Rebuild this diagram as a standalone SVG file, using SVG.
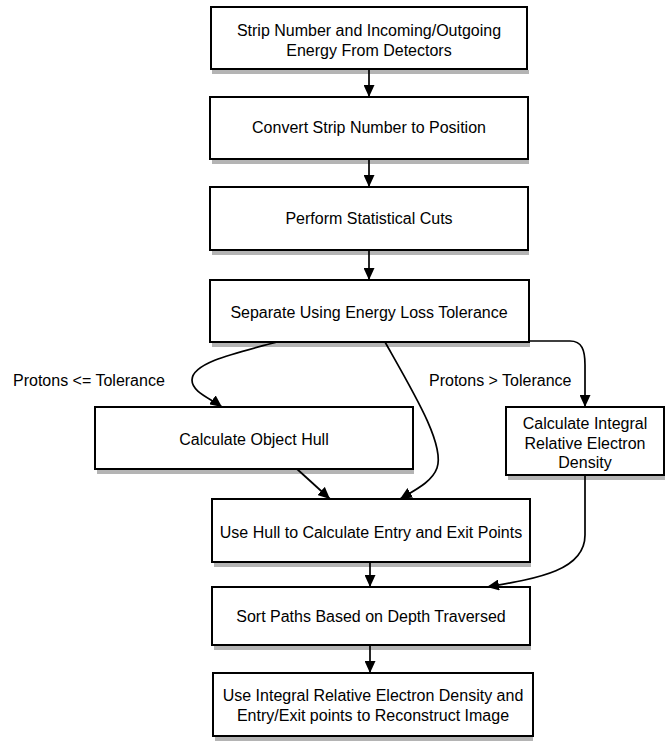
<svg xmlns="http://www.w3.org/2000/svg" width="666" height="744" viewBox="0 0 666 744">
<defs>
<marker id="arr" markerUnits="userSpaceOnUse" markerWidth="13" markerHeight="11" refX="12" refY="5.5" orient="auto">
<path d="M0,0 L12,5.5 L0,11 Z" fill="#000"/>
</marker>
</defs>
<style>
.box{fill:#fff;stroke:#000;stroke-width:2}
.sh{fill:#b4b4b4}
.t{font-family:"Liberation Sans",Arial,sans-serif;font-size:16px;fill:#000;text-anchor:middle;dominant-baseline:central}
.lbl{font-family:"Liberation Sans",Arial,sans-serif;font-size:16px;fill:#000;dominant-baseline:central}
.c{fill:none;stroke:#000;stroke-width:1.7}
</style>
<rect width="666" height="744" fill="#fff"/>
<g id="n1"><rect class="sh" x="212" y="70" width="317" height="4"/><rect class="box" x="211" y="7" width="316" height="62"/><text class="t" x="369" y="30">Strip Number and Incoming/Outgoing</text><text class="t" x="369" y="50">Energy From Detectors</text></g>
<g id="n2"><rect class="sh" x="212" y="160" width="317" height="4"/><rect class="box" x="210" y="97" width="318" height="62"/><text class="t" x="369" y="127">Convert Strip Number to Position</text></g>
<g id="n3"><rect class="sh" x="212" y="251" width="317" height="4"/><rect class="box" x="210" y="187" width="318" height="63"/><text class="t" x="369" y="218">Perform Statistical Cuts</text></g>
<g id="n4"><rect class="sh" x="212" y="343" width="318" height="4"/><rect class="box" x="210" y="280" width="319" height="62"/><text class="t" x="369" y="312">Separate Using Energy Loss Tolerance</text></g>
<g id="n5"><rect class="sh" x="97" y="470" width="317" height="4"/><rect class="box" x="95" y="407" width="318" height="62"/><text class="t" x="254" y="439">Calculate Object Hull</text></g>
<g id="n6"><rect class="sh" x="508" y="476" width="157" height="4"/><rect class="box" x="506" y="407" width="158" height="68"/><text class="t" x="585" y="423">Calculate Integral</text><text class="t" x="585" y="443">Relative Electron</text><text class="t" x="585" y="462">Density</text></g>
<g id="n7"><rect class="sh" x="214" y="563" width="317" height="4"/><rect class="box" x="212" y="499" width="318" height="63"/><text class="t" x="371" y="532">Use Hull to Calculate Entry and Exit Points</text></g>
<g id="n8"><rect class="sh" x="214" y="646" width="317" height="4"/><rect class="box" x="212" y="587" width="318" height="58"/><text class="t" x="371" y="616">Sort Paths Based on Depth Traversed</text></g>
<g id="n9"><rect class="sh" x="215" y="737" width="318" height="4"/><rect class="box" x="213" y="673" width="320" height="63"/><text class="t" x="373" y="695">Use Integral Relative Electron Density and</text><text class="t" x="373" y="715">Entry/Exit points to Reconstruct Image</text></g>
<g id="connectors">
<path class="c" d="M369,69 L369,97" marker-end="url(#arr)"/>
<path class="c" d="M369,159 L369,187" marker-end="url(#arr)"/>
<path class="c" d="M369,250 L369,280" marker-end="url(#arr)"/>
<path class="c" d="M277,342 C240,352 192,362 192,380 C192,392 210,398 222,407" marker-end="url(#arr)"/>
<path class="c" d="M385,342 C415,395 445,445 437,468 C432,482 415,490 400,499" marker-end="url(#arr)"/>
<path class="c" d="M529,341 L570,341 C582,341 585,350 585,365 L585,407" marker-end="url(#arr)"/>
<path class="c" d="M297,469 L330,499" marker-end="url(#arr)"/>
<path class="c" d="M585,475 L585,535 C585,570 540,578 487,587" marker-end="url(#arr)"/>
<path class="c" d="M370,562 L370,587" marker-end="url(#arr)"/>
<path class="c" d="M370,645 L370,673" marker-end="url(#arr)"/>
<text class="lbl" x="13" y="380">Protons &lt;= Tolerance</text>
<text class="lbl" x="429" y="380">Protons &gt; Tolerance</text>
</g>
</svg>
